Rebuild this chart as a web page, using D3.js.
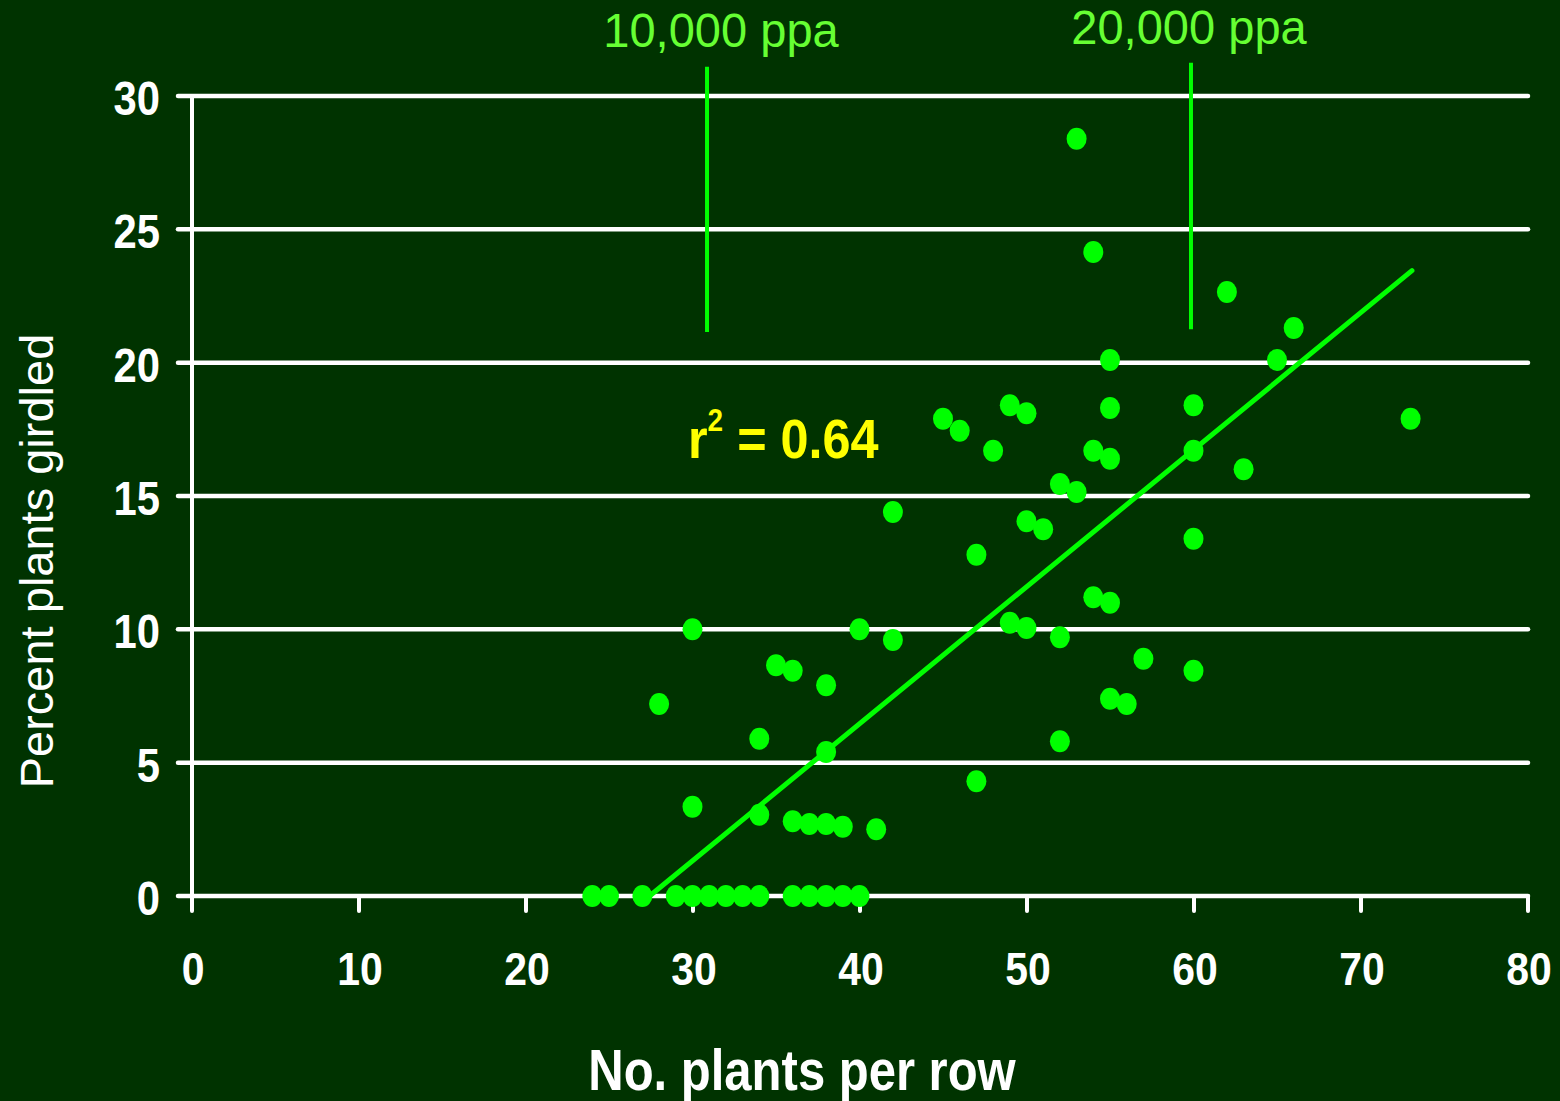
<!DOCTYPE html>
<html>
<head>
<meta charset="utf-8">
<script src="https://cdn.jsdelivr.net/npm/d3@7"></script>
<style>
  html, body { margin: 0; padding: 0; background: #003300; }
  svg { display: block; }
  text { font-family: "Liberation Sans", Arial, sans-serif; }
</style>
</head>
<body>
<svg id="chart" width="1560" height="1101"></svg>
<script>
// Plants per row vs. percent of plants girdled
const plantsPerRow = [
  24, 25, 27, 29, 30, 31, 32, 33, 34, 36, 37, 38, 39, 40,
  28, 30, 30, 34, 34, 35, 36, 36, 37, 38, 38, 38, 39, 40, 41,
  42, 42, 45, 46, 47, 47, 48, 49, 49, 50, 50, 50, 51,
  52, 52, 52, 53, 53, 54, 54, 54, 55, 55, 55, 55, 55, 56, 57,
  60, 60, 60, 60, 62, 63, 65, 66, 73
];
const percentGirdled = [
  0, 0, 0, 0, 0, 0, 0, 0, 0, 0, 0, 0, 0, 0,
  7.2, 10.0, 3.35, 5.9, 3.05, 8.65, 8.45, 2.8, 2.7, 7.9, 5.4, 2.7, 2.6, 10.0, 2.5,
  14.4, 9.6, 17.9, 17.45, 12.8, 4.3, 16.7, 18.4, 10.25, 18.1, 14.05, 10.05, 13.75,
  15.45, 9.7, 5.8, 28.4, 15.15, 24.15, 16.7, 11.2, 20.1, 18.3, 16.4, 11.0, 7.4, 7.2, 8.9,
  18.4, 16.7, 13.4, 8.45, 22.65, 16.0, 20.1, 21.3, 17.9
];

// Fitted regression line endpoints
const trendX = [27.4, 73.05];
const trendY = [0, 23.45];
const rSquared = "0.64";

// Planting-density reference markers
const densityLabels = ["10,000 ppa", "20,000 ppa"];
const densityX = [30.84, 59.82];
const densityTop = [31.1, 31.25];
const densityBottom = [21.15, 21.25];

const xTicks = [0, 10, 20, 30, 40, 50, 60, 70, 80];
const yTicks = [0, 5, 10, 15, 20, 25, 30];

const svg = d3.select("#chart");
const W = 1560, H = 1101;
svg.append("rect").attr("width", W).attr("height", H).attr("fill", "#003300");

const x = d3.scaleLinear().domain([0, 80]).range([192, 1528]);
const y = d3.scaleLinear().domain([0, 30]).range([896, 96]);

const white = "#ffffff";
const green = "#00ff00";

// Horizontal gridlines (with left tick stubs)
svg.append("g").selectAll("line").data(yTicks).join("line")
  .attr("x1", 178).attr("x2", x(80))
  .attr("y1", d => y(d)).attr("y2", d => y(d))
  .attr("stroke", white).attr("stroke-width", 4.5).attr("stroke-linecap", "round");

// Vertical axis line
svg.append("line")
  .attr("x1", x(0)).attr("x2", x(0)).attr("y1", y(30)).attr("y2", y(0))
  .attr("stroke", white).attr("stroke-width", 4);

// X axis tick marks
svg.append("g").selectAll("line").data(xTicks).join("line")
  .attr("x1", d => x(d)).attr("x2", d => x(d))
  .attr("y1", y(0)).attr("y2", y(0) + 15)
  .attr("stroke", white).attr("stroke-width", 4).attr("stroke-linecap", "round");

// Condensed label helper
function label(g, tx, ty, str, size, sx, anchor, fill, weight) {
  return g.append("text")
    .attr("transform", `translate(${tx},${ty}) scale(${sx},1)`)
    .attr("text-anchor", anchor)
    .attr("font-size", size)
    .attr("font-weight", weight)
    .attr("fill", fill)
    .text(str);
}

const labels = svg.append("g");
yTicks.forEach(t => label(labels, 160, y(t) + 19, String(t), 48, 0.87, "end", white, "bold"));
xTicks.forEach(t => label(labels, x(t) + 1, 985, String(t), 47, 0.87, "middle", white, "bold"));

// Axis titles
label(labels, 802, 1090, "No. plants per row", 58, 0.845, "middle", white, "bold");
svg.append("text")
  .attr("transform", `translate(53,561) rotate(-90)`)
  .attr("text-anchor", "middle")
  .attr("font-size", 47)
  .attr("fill", white)
  .text("Percent plants girdled");

// Density reference lines and their labels
svg.append("g").selectAll("line").data(densityX).join("line")
  .attr("x1", d => x(d)).attr("x2", d => x(d))
  .attr("y1", (d, i) => y(densityTop[i])).attr("y2", (d, i) => y(densityBottom[i]))
  .attr("stroke", green).attr("stroke-width", 4);

const labelCx = [721, 1189];
const labelBase = [47, 44];
densityLabels.forEach((s, i) =>
  label(labels, labelCx[i], labelBase[i], s, 48, 0.98, "middle", "#66ff33", "normal"));

// Regression line
const line = d3.line().x(d => x(d[0])).y(d => y(d[1]));
svg.append("path")
  .datum(d3.zip(trendX, trendY))
  .attr("d", line)
  .attr("fill", "none")
  .attr("stroke", green)
  .attr("stroke-width", 5)
  .attr("stroke-linecap", "round");

// r-squared annotation
const rt = svg.append("text")
  .attr("transform", `translate(688,458) scale(0.9,1)`)
  .attr("font-size", 56)
  .attr("font-weight", "bold")
  .attr("fill", "#ffff00");
rt.append("tspan").text("r");
rt.append("tspan").attr("font-size", 31).attr("dy", -27).text("2");
rt.append("tspan").attr("dy", 27).text(" = " + rSquared);

// Observations
svg.append("g").selectAll("ellipse").data(d3.zip(plantsPerRow, percentGirdled)).join("ellipse")
  .attr("cx", d => x(d[0]) - 0.5)
  .attr("cy", d => y(d[1]))
  .attr("rx", 10).attr("ry", 11)
  .attr("fill", green);
</script>
</body>
</html>
